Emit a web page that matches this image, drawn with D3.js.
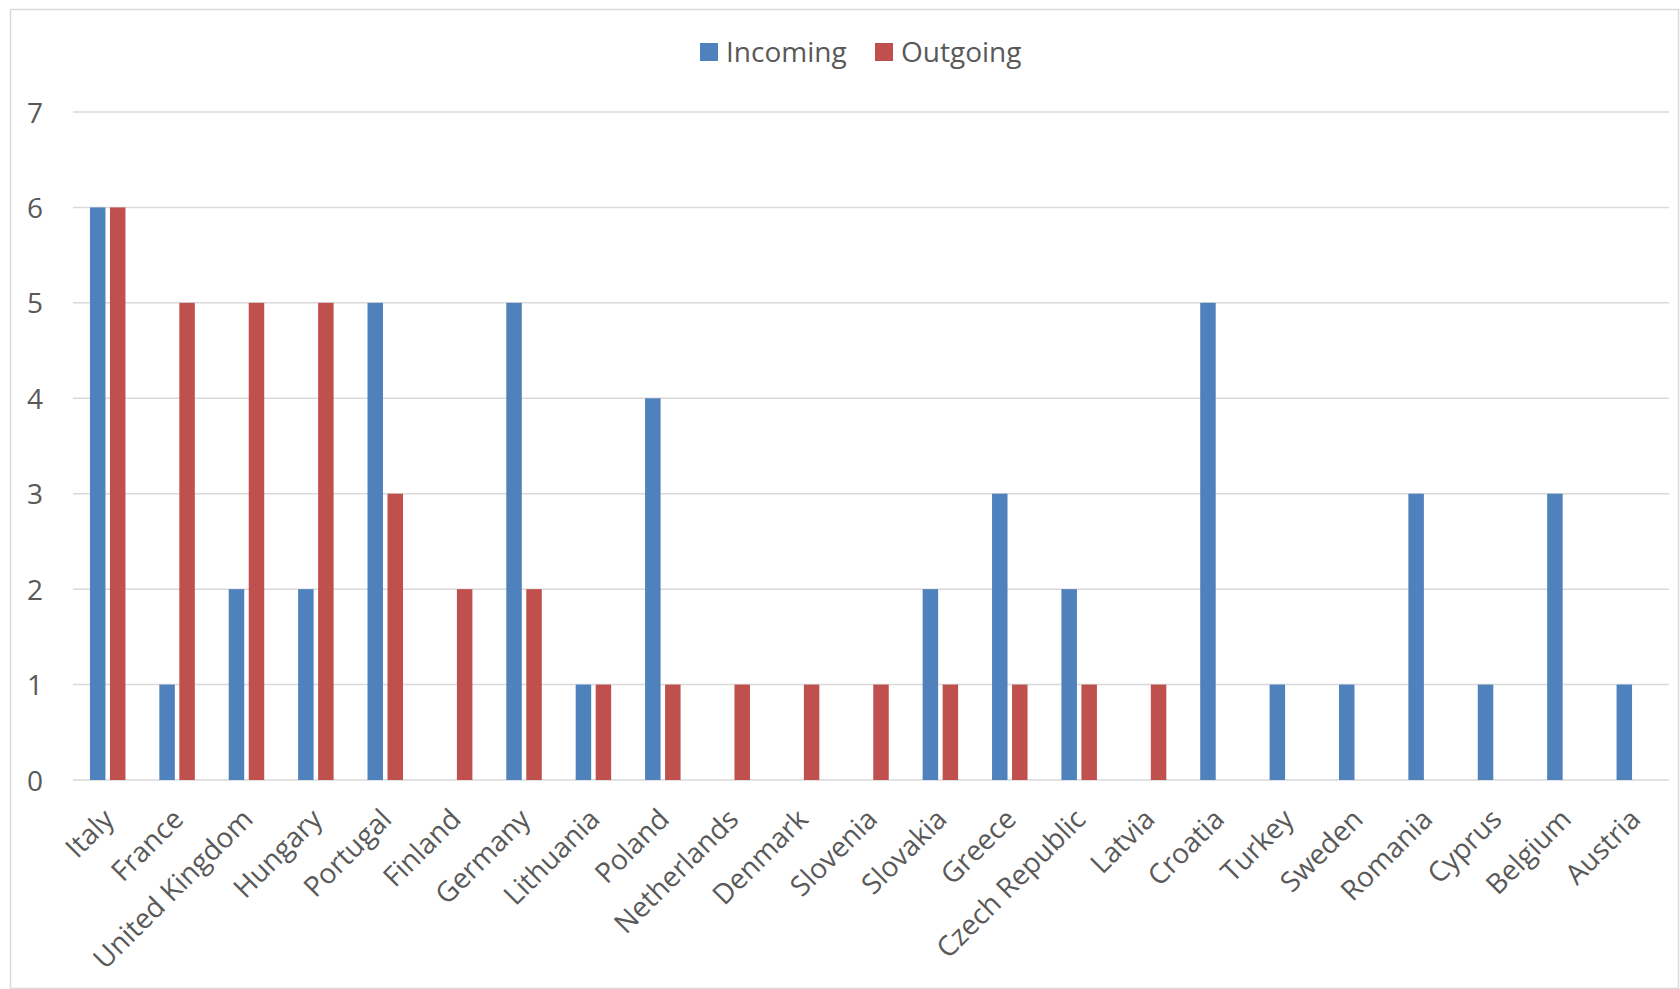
<!DOCTYPE html>
<html>
<head>
<meta charset="utf-8">
<script src="https://cdn.jsdelivr.net/npm/d3@7"></script>
<style>
html,body{margin:0;padding:0;background:#fff;}
svg{display:block;}
text{font-family:"Open Sans","Noto Sans",sans-serif;fill:#595959;}
</style>
</head>
<body>
<svg id="chart" width="1680" height="989"></svg>
<script>
const categories = ["Italy","France","United Kingdom","Hungary","Portugal","Finland","Germany","Lithuania","Poland","Netherlands","Denmark","Slovenia","Slovakia","Greece","Czech Republic","Latvia","Croatia","Turkey","Sweden","Romania","Cyprus","Belgium","Austria"];
const incoming = [6,1,2,2,5,0,5,1,4,0,0,0,2,3,2,0,5,1,1,3,1,3,1];
const outgoing = [6,5,5,5,3,2,2,1,1,1,1,1,1,1,1,1,0,0,0,0,0,0,0];
const seriesNames = ["Incoming","Outgoing"];
const seriesColors = ["#4F81BD","#C0504D"];
const yTicks = [0,1,2,3,4,5,6,7];

const svg = d3.select("#chart");
const W = 1680, H = 989;
const m = {left:73, right:11, top:112, bottom:209};
const plotW = W - m.left - m.right, plotH = H - m.top - m.bottom;
const FS = "28px";

// chart border
svg.append("rect").attr("x",10.5).attr("y",9.5).attr("width",W-12).attr("height",H-10)
  .attr("fill","#fff").attr("stroke","#d9d9d9").attr("stroke-width",1.5);

const g = svg.append("g").attr("transform",`translate(${m.left},${m.top})`);

const x = d3.scaleBand().domain(categories).range([0,plotW]).paddingInner(0).paddingOuter(0);
const y = d3.scaleLinear().domain([0,7]).range([plotH,0]);

// gridlines
g.append("g").selectAll("line").data(yTicks).join("line")
  .attr("x1",0).attr("x2",plotW)
  .attr("y1",d=>y(d)).attr("y2",d=>y(d))
  .attr("stroke","#d9d9d9").attr("stroke-width",1.5);

// y axis labels
const yAxis = d3.axisLeft(y).tickValues(yTicks).tickFormat(d3.format("d")).tickSize(0).tickPadding(0);
const ya = g.append("g").attr("transform","translate(-30,0)").call(yAxis);
ya.select(".domain").remove();
ya.selectAll("text").style("font-size",FS).attr("fill","#595959")
  .style("font-family",'"Open Sans","Noto Sans",sans-serif').attr("dy","0.36em");

// bars
const barW = 15.5, gap = 4.5;
const xs = d3.scaleOrdinal().domain(seriesNames).range([-(barW+gap/2), gap/2]);
const data = categories.map((c,i)=>({c, vals:[incoming[i], outgoing[i]]}));
const groups = g.append("g").selectAll("g").data(data).join("g")
  .attr("transform",d=>`translate(${x(d.c)+x.bandwidth()/2},0)`);
groups.selectAll("rect").data(d=>d.vals.map((v,k)=>({v,k})).filter(e=>e.v>0)).join("rect")
  .attr("x",e=>xs(seriesNames[e.k]))
  .attr("width",barW)
  .attr("y",e=>y(e.v))
  .attr("height",e=>y(0)-y(e.v))
  .attr("fill",e=>seriesColors[e.k]);

// x axis labels
const xAxis = d3.axisBottom(x).tickSize(0).tickPadding(0);
const xa = g.append("g").attr("transform",`translate(0,${plotH})`).call(xAxis);
xa.select(".domain").remove();
xa.selectAll("text")
  .style("font-size",FS).attr("fill","#595959")
  .style("font-family",'"Open Sans","Noto Sans",sans-serif')
  .attr("text-anchor","end")
  .attr("y",0).attr("dy",0)
  .attr("transform","translate(8,41) rotate(-45)");

// legend
const legend = svg.append("g");
const legX = [700, 875];
seriesNames.forEach((s,i)=>{
  legend.append("rect").attr("x",legX[i]).attr("y",43).attr("width",18).attr("height",18).attr("fill",seriesColors[i]);
  legend.append("text").attr("x",legX[i]+26).attr("y",62).style("font-size",FS).text(s);
});
</script>
</body>
</html>
